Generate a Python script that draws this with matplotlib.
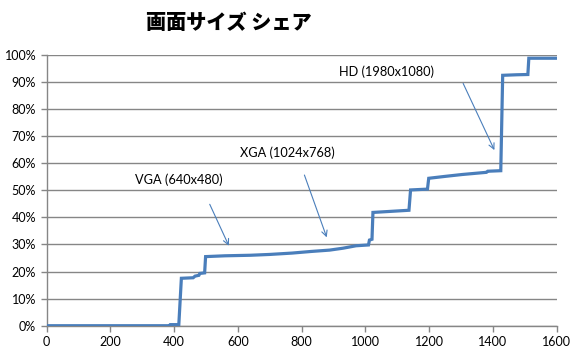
import matplotlib
matplotlib.use("Agg")
import matplotlib.pyplot as plt
from matplotlib.ticker import FuncFormatter

# cumulative share vs horizontal resolution
res_x = [0, 385, 388, 415, 423, 460, 466, 478, 481, 496, 499, 560, 640, 700, 770,
         830, 888, 930, 971, 1010, 1013, 1021, 1024, 1137, 1142, 1195, 1199, 1250,
         1304, 1380, 1384, 1425, 1431, 1475, 1510, 1513, 1600]
share = [0.0, 0.0, 0.4, 0.4, 17.5, 17.7, 18.3, 18.6, 19.3, 19.5, 25.5, 25.8, 26.0,
         26.3, 26.8, 27.4, 27.9, 28.6, 29.5, 29.8, 31.6, 31.9, 41.8, 42.6, 50.1,
         50.4, 54.4, 55.1, 55.8, 56.6, 57.0, 57.2, 92.4, 92.6, 92.7, 98.7, 98.7]

x_ticks = [0, 200, 400, 600, 800, 1000, 1200, 1400, 1600]
y_ticks = [0, 10, 20, 30, 40, 50, 60, 70, 80, 90, 100]

# annotations: label, text pos, arrow tail, arrow head
notes = [
    ("VGA (640x480)", (278, 54.0), (512, 44.8), (572, 29.5)),
    ("XGA (1024x768)", (606, 63.7), (809, 55.6), (879, 32.6)),
    ("HD (1980x1080)", (919, 93.6), (1307, 89.4), (1405, 64.8)),
]

LINE = "#4A7EBB"
GRID = "#868686"

fig = plt.figure(figsize=(5.78, 3.53), dpi=100)
ax = fig.add_axes([0.0805, 0.0773, 0.8824, 0.7677])

ax.plot(res_x, share, color=LINE, lw=2.3, solid_joinstyle="miter", zorder=3)

ax.set_xlim(0, 1600)
ax.set_ylim(0, 100)
ax.set_xticks(x_ticks)
ax.set_yticks(y_ticks)
ax.yaxis.set_major_formatter(FuncFormatter(lambda v, p: "%d%%" % v))
ax.grid(axis="y", color=GRID, lw=1)
ax.set_axisbelow(True)

for s in ["top", "right"]:
    ax.spines[s].set_visible(False)
for s in ["left", "bottom"]:
    ax.spines[s].set_color(GRID)
    ax.spines[s].set_linewidth(1)
ax.tick_params(axis="both", colors=GRID, length=4, width=1, labelcolor="black",
               labelsize=9)
for lab in ax.get_xticklabels() + ax.get_yticklabels():
    lab.set_family("Lato")

for label, tpos, tail, head in notes:
    ax.text(tpos[0], tpos[1], label, fontsize=9.2, family="Lato", va="center")
    ax.annotate("", xy=head, xytext=tail,
                arrowprops=dict(arrowstyle="->", color=LINE, lw=0.8,
                                shrinkA=0, shrinkB=0))

fig.text(0.396, 0.935, "画面サイズ シェア", fontsize=14.5, fontweight="heavy",
         family=["Noto Sans CJK JP", "DejaVu Sans"], ha="center", va="center")

fig.savefig("out.png", dpi=100)
